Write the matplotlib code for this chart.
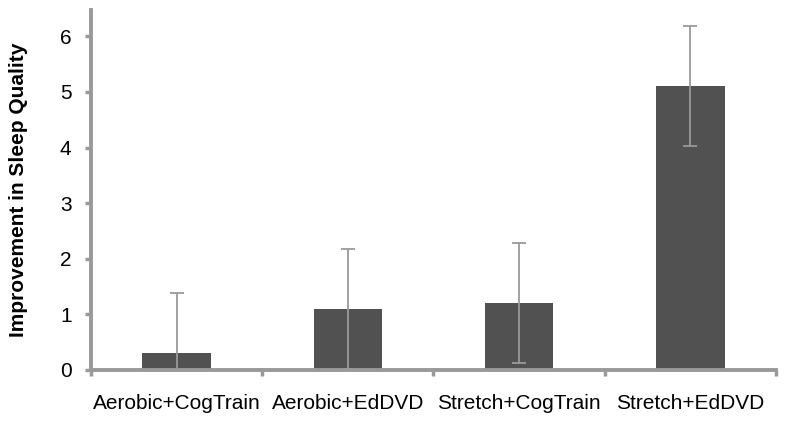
import matplotlib
matplotlib.use("Agg")
import matplotlib.pyplot as plt
import numpy as np

categories = ["Aerobic+CogTrain", "Aerobic+EdDVD", "Stretch+CogTrain", "Stretch+EdDVD"]
values = [0.3, 1.1, 1.2, 5.1]
errors = [1.08, 1.08, 1.08, 1.08]
yticks = [0, 1, 2, 3, 4, 5, 6]

plt.rcParams['font.family'] = ['Liberation Sans', 'DejaVu Sans']

fig = plt.figure(figsize=(7.87, 4.23), dpi=100)
ax = fig.add_axes([0.1156, 0.1253, 0.986 - 0.1156, 0.976 - 0.1253])

x = np.arange(len(categories))
ax.bar(x, values, width=0.4, color="#515151", zorder=2)
ax.errorbar(x, values, yerr=errors, fmt="none", ecolor="#9a9a9a", elinewidth=1.3,
            capsize=5, capthick=1.3, zorder=3, clip_on=True)

ax.set_xlim(-0.5, len(categories) - 0.5)
ax.set_ylim(0, 6.47)
ax.set_yticks(yticks)
ax.set_yticklabels([str(t) for t in yticks], fontsize=15)

ax.set_xticks(np.arange(len(categories) + 1) - 0.5)
ax.set_xticklabels([])
ax.set_xticks(x, minor=True)
ax.set_xticklabels(categories, minor=True, fontsize=15)
ax.tick_params(axis="x", which="minor", length=0, pad=17)
ax.tick_params(axis="both", which="major", length=4, width=2.5, color="#999999")
ax.tick_params(axis="y", pad=10)

for s in ["top", "right"]:
    ax.spines[s].set_visible(False)
for s in ["left", "bottom"]:
    ax.spines[s].set_color("#999999")
    ax.spines[s].set_linewidth(2.8)

ax.set_ylabel("Improvement in Sleep Quality", fontsize=15, fontweight="bold", labelpad=23)

fig.savefig("out.png", dpi=100)
